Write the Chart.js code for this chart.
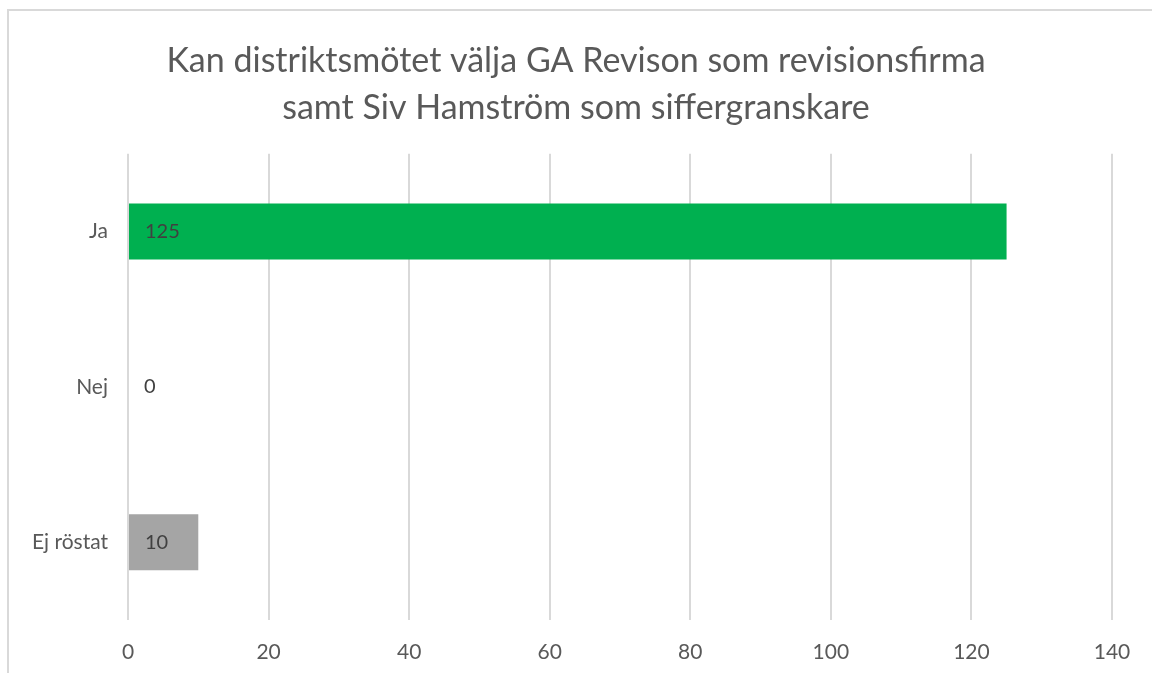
<!DOCTYPE html>
<html>
<head>
<meta charset="utf-8">
<script src="https://cdn.jsdelivr.net/npm/chart.js@4"></script>
<style>
  body { margin: 0; overflow: hidden; background: #fff; }
  #wrap { position: relative; width: 1152px; height: 673px; }
  #box { position: absolute; left: 7px; top: 9px; width: 1200px; height: 700px; border: 2px solid #d9d9d9; box-sizing: border-box; }
  #grafica { position: absolute; left: 0; top: 0; }
</style>
</head>
<body>
<div id="wrap">
  <div id="box"></div>
  <canvas id="grafica" width="1152" height="673"></canvas>
</div>
<script>
const kategorier = ['Ja', 'Nej', 'Ej röstat'];
const roster = [125, 0, 10];
const farger = ['#00b050', '#00b050', '#a5a5a5'];
const titel = ['Kan distriktsmötet välja GA Revison som revisionsfirma', 'samt Siv Hamström som siffergranskare'];

const fontNamn = 'Lato, "Noto Sans", sans-serif';

// skriver värdet inne i stapeln, vid basen
const etiketter = {
    id: 'etiketter',
    afterLayout(chart) {
        // centrera titeln på hela bredden
        chart.titleBlock.left += 30;
    },
    afterDatasetsDraw(chart) {
        const ctx = chart.ctx;
        const meta = chart.getDatasetMeta(0);
        ctx.save();
        ctx.font = '20px ' + fontNamn;
        ctx.fillStyle = '#404040';
        ctx.textBaseline = 'middle';
        ctx.textAlign = 'left';
        meta.data.forEach((bar, i) => {
            ctx.fillText(String(roster[i]), bar.base + 16, bar.y);
        });
        ctx.restore();
    }
};

new Chart(document.getElementById('grafica'), {
    type: 'bar',
    data: {
        labels: kategorier,
        datasets: [{
            data: roster,
            backgroundColor: farger,
            categoryPercentage: 1,
            barPercentage: 0.36
        }]
    },
    plugins: [etiketter],
    options: {
        indexAxis: 'y',
        responsive: false,
        animation: false,
        layout: { padding: { left: 10, right: 40, top: 0, bottom: 0 } },
        plugins: {
            legend: { display: false },
            tooltip: { enabled: false },
            title: {
                display: true,
                text: titel,
                color: '#595959',
                font: { family: fontNamn, size: 34, weight: 'normal', lineHeight: 1.38 },
                padding: { top: 38, bottom: 22 }
            }
        },
        scales: {
            x: {
                min: 0,
                max: 140,
                ticks: { stepSize: 20, color: '#595959', padding: 20, font: { family: fontNamn, size: 21 } },
                grid: { color: '#d9d9d9', lineWidth: 2, drawTicks: false },
                border: { display: false },
                afterFit(scale) { scale.height = 53; }
            },
            y: {
                ticks: { color: '#595959', padding: 20, font: { family: fontNamn, size: 21 } },
                grid: { display: false, drawTicks: false },
                border: { display: false },
                afterFit(scale) { scale.width = 118; }
            }
        }
    }
});
</script>
</body>
</html>
